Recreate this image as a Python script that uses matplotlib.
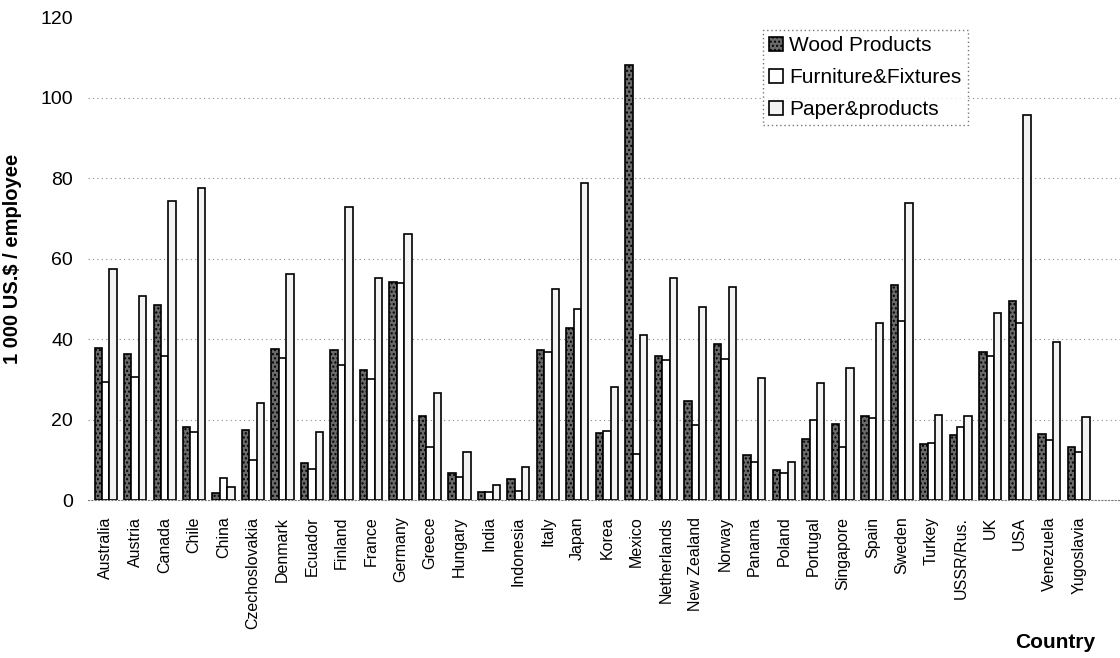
import numpy as np
import matplotlib
matplotlib.use("Agg")
import matplotlib.pyplot as plt

plt.rcParams['font.family'] = ['Liberation Sans', 'DejaVu Sans']

countries = ["Australia", "Austria", "Canada", "Chile", "China", "Czechoslovakia",
             "Denmark", "Ecuador", "Finland", "France", "Germany", "Greece",
             "Hungary", "India", "Indonesia", "Italy", "Japan", "Korea", "Mexico",
             "Netherlands", "New Zealand", "Norway", "Panama", "Poland", "Portugal",
             "Singapore", "Spain", "Sweden", "Turkey", "USSR/Rus.", "UK", "USA",
             "Venezuela", "Yugoslavia"]

wood = [37.7, 36.4, 48.5, 18.2, 1.8, 17.5, 37.6, 9.3, 37.4, 32.4, 54.3, 20.8,
        6.7, 2.0, 5.2, 37.2, 42.8, 16.6, 108.0, 35.8, 24.6, 38.8, 11.2, 7.5,
        15.3, 18.9, 20.8, 53.4, 13.9, 16.2, 36.9, 49.5, 16.4, 13.1]
furniture = [29.4, 30.6, 35.7, 17.0, 5.5, 9.9, 35.3, 7.6, 33.5, 30.1, 54.0, 13.2,
             5.7, 2.0, 2.3, 36.8, 47.4, 17.2, 11.4, 34.8, 18.6, 35.0, 9.5, 6.8,
             20.0, 13.3, 20.5, 44.4, 14.1, 18.1, 35.8, 44.0, 14.9, 12.0]
paper = [57.5, 50.7, 74.2, 77.6, 3.2, 24.2, 56.2, 16.8, 72.9, 55.2, 66.0, 26.6,
         11.9, 3.7, 8.2, 52.4, 78.8, 28.2, 41.0, 55.3, 48.0, 53.0, 30.4, 9.5,
         29.2, 32.9, 44.0, 73.8, 21.1, 20.9, 46.4, 95.7, 39.3, 20.7]

x = np.arange(len(countries))
w = 0.25

fig = plt.figure(figsize=(11.2, 6.58), dpi=100)
ax = fig.add_axes([0.079, 0.24, 0.921, 0.734])

ax.bar(x - w, wood, w, facecolor="#6a6a6a", edgecolor="black", hatch="....",
       linewidth=1.2, label="Wood Products")
ax.bar(x, furniture, w, facecolor="white", edgecolor="black",
       linewidth=1.2, label="Furniture&Fixtures")
ax.bar(x + w, paper, w, facecolor="#f3f3f3", edgecolor="black",
       linewidth=1.2, label="Paper&products")

ax.set_ylim(0, 120)
ax.set_xlim(-0.58, 34.4)
ax.set_yticks(range(0, 121, 20))
ax.set_xticks(x)
ax.set_xticklabels(countries, rotation=90, fontsize=11.5)
ax.tick_params(axis="y", labelsize=14, length=0, pad=11)
ax.tick_params(axis="x", length=0, pad=12)

for s in ["left", "right", "top"]:
    ax.spines[s].set_visible(False)
ax.spines["bottom"].set_linestyle((0, (1, 2)))
ax.spines["bottom"].set_color("#777777")

# dotted gridlines
for yv in range(20, 101, 20):
    ax.axhline(yv, color="#888888", linestyle=(0, (1, 3)), linewidth=0.8, zorder=0)

ax.set_ylabel("1 000 US.$ / employee", fontsize=14.5, fontweight="bold")
ax.yaxis.set_label_coords(-0.064, 0.5)
fig.text(0.978, 0.015, "Country", fontsize=15, fontweight="bold",
         ha="right", va="baseline")

leg = ax.legend(loc="upper right", bbox_to_anchor=(0.8526, 0.973), fontsize=15,
                handlelength=0.65, handleheight=0.65, handletextpad=0.33,
                fancybox=False, borderpad=0.3, labelspacing=0.62,
                borderaxespad=0)
leg.get_frame().set_linestyle((0, (1, 2)))
leg.get_frame().set_edgecolor("#555555")

fig.savefig("out.png", dpi=100)
